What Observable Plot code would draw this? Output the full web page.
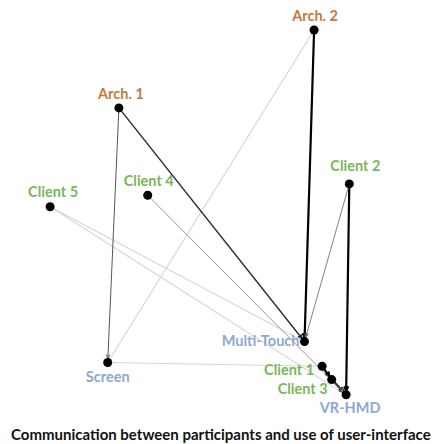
<!DOCTYPE html>
<html>
<head>
<meta charset="utf-8">
<script src="https://cdn.jsdelivr.net/npm/d3@7"></script>
<script src="https://cdn.jsdelivr.net/npm/@observablehq/plot@0.6"></script>
<style>
  html, body { margin: 0; padding: 0; background: #fff; }
  #chart { width: 437px; }
  #caption { font-family: Lato, "Open Sans", sans-serif; font-weight: bold; font-size: 15px; color: #111; white-space: nowrap; width: 437px; height: 20px; line-height: 20px; margin-left: 11px; }
</style>
</head>
<body>
<div id="chart"></div>
<div id="caption">Communication between participants and use of user-interface</div>
<script>
// Nodes (layout coordinates)
const nodeNames = ["Arch. 1", "Arch. 2", "Client 1", "Client 2", "Client 3", "Client 4", "Client 5", "Multi-Touch", "Screen", "VR-HMD"];
const nodeGroups = ["Architect", "Architect", "Client", "Client", "Client", "Client", "Client", "Interface", "Interface", "Interface"];
const nodeX = [24.5, 85.5, 88, 96.5, 91, 33.5, 3, 82.5, 21, 95.5];
const nodeY = [77, 97.5, 9, 57, 5.5, 54, 51, 15.5, 10, 1.5];

// Edges (communication / use) with intensity
const edgeSource = ["Arch. 2", "Client 2", "Client 1", "Client 3", "Arch. 1", "Arch. 1", "Client 2", "Client 4", "Arch. 2", "Client 5", "Client 5", "Screen"];
const edgeTarget = ["Multi-Touch", "VR-HMD", "Client 3", "VR-HMD", "Multi-Touch", "Screen", "Multi-Touch", "VR-HMD", "Screen", "Multi-Touch", "VR-HMD", "Client 1"];
const edgeWeight = [6, 6, 6, 6, 5, 4, 3, 2.5, 1, 1, 1, 1];

// ---- build tables ----
const nodes = nodeNames.map((name, i) => ({name, group: nodeGroups[i], x: nodeX[i], y: nodeY[i]}));
const byName = new Map(nodes.map(n => [n.name, n]));
const edges = edgeSource.map((s, i) => ({
  x1: byName.get(s).x, y1: byName.get(s).y,
  x2: byName.get(edgeTarget[i]).x, y2: byName.get(edgeTarget[i]).y,
  weight: edgeWeight[i]
}));

// label placement (style only)
const place = {
  "Arch. 1": {anchor: "middle", dx: 2, dy: -14},
  "Arch. 2": {anchor: "middle", dx: 1, dy: -14},
  "Client 2": {anchor: "middle", dx: 6, dy: -18},
  "Client 4": {anchor: "middle", dx: 1, dy: -14},
  "Client 5": {anchor: "middle", dx: 3, dy: -14},
  "Multi-Touch": {anchor: "end", dx: -5, dy: 0},
  "Screen": {anchor: "middle", dx: 0, dy: 15},
  "Client 1": {anchor: "end", dx: -8, dy: 4},
  "Client 3": {anchor: "end", dx: -4, dy: 10},
  "VR-HMD": {anchor: "middle", dx: 4, dy: 14}
};
const groupColors = {Architect: "#c27a3c", Client: "#7ab65a", Interface: "#8ea7d2"};

const labelMarks = nodes.map(n => Plot.text([n], {
  x: "x", y: "y", text: "name",
  textAnchor: place[n.name].anchor, dx: place[n.name].dx, dy: place[n.name].dy,
  fill: groupColors[n.group], fontWeight: "bold", fontSize: 14.5,
  fontFamily: "Lato, 'Open Sans', sans-serif"
}));

const chart = Plot.plot({
  width: 437,
  height: 424,
  marginLeft: 40,
  marginRight: 77,
  marginTop: 20,
  marginBottom: 24,
  x: {domain: [0, 100], axis: null},
  y: {domain: [0, 100], axis: null},
  color: {type: "linear", domain: [0.5, 6], range: ["#ececec", "#000000"]},
  style: {background: "#fff"},
  marks: [
    Plot.arrow(edges.filter(d => d.weight < 2.5), {
      x1: "x1", y1: "y1", x2: "x2", y2: "y2",
      stroke: "weight", strokeWidth: 1.2, headLength: 0, insetEnd: 3
    }),
    Plot.arrow(edges.filter(d => d.weight >= 2.5), {
      x1: "x1", y1: "y1", x2: "x2", y2: "y2",
      stroke: "weight", strokeWidth: d => d.weight >= 6 ? 2.2 : d.weight === 5 ? 1.4 : 1,
      headLength: 6, headAngle: 50, insetEnd: 4
    }),
    Plot.dot(nodes, {x: "x", y: "y", r: 4.5, fill: "#000"}),
    ...labelMarks
  ]
});
document.getElementById("chart").append(chart);
</script>
</body>
</html>
